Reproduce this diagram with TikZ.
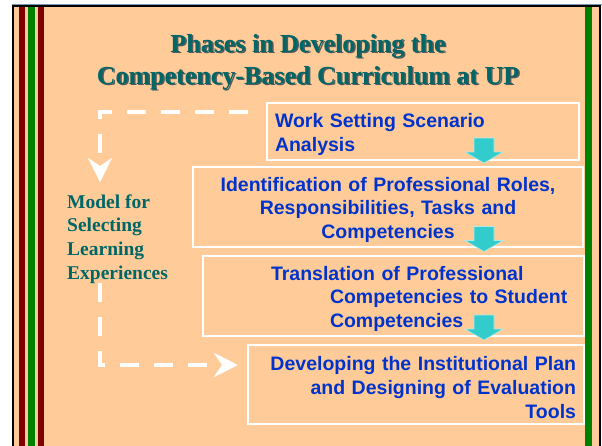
\documentclass[tikz,border=0pt]{standalone}
\usepackage{fontspec}
\setmainfont{Liberation Serif}
\setsansfont{Liberation Sans}
\usetikzlibrary{arrows.meta}

\definecolor{peach}{RGB}{255,204,153}
\definecolor{titleteal}{RGB}{0,102,102}
\definecolor{phaseblue}{RGB}{0,51,204}
\definecolor{flowcyan}{RGB}{51,204,204}
\definecolor{barred}{RGB}{128,0,0}
\definecolor{bargreen}{RGB}{0,128,0}
\definecolor{edgeslate}{RGB}{120,150,165}

\begin{document}
\begin{tikzpicture}[x=1pt,y=-1pt,
    phase/.style = {draw=white, line width=2pt, inner xsep=8pt, inner ysep=0pt, text=phaseblue,
                    font=\sffamily\bfseries\fontsize{19.5}{23.6}\selectfont,
                    execute at begin node=\rule{0pt}{20pt}},
    heading/.style = {anchor=base, inner sep=0pt, font=\bfseries\fontsize{26}{30}\selectfont},
    model/.style = {anchor=west, align=left, inner sep=0pt, text=titleteal,
                    font=\bfseries\fontsize{19.5}{23.7}\selectfont},
    loop/.style = {draw=white, line width=4pt, dash pattern=on 19pt off 15pt,
                   -{Stealth[length=24pt,width=24pt,inset=8pt]}},
    down/.pic = {\filldraw[fill=flowcyan, draw=white!60!flowcyan, line width=0.6pt]
                 (-10,-12) -- (10,-12) -- (10,2) -- (19,2) -- (0,13) -- (-19,2) -- (-10,2) -- cycle;}]
  \useasboundingbox (0,0) rectangle (602,445);

  % slide background and frame
  \fill[white] (0,0) rectangle (602,445);
  \fill[peach] (13,6) rectangle (600,450);
  \fill[barred] (19,6) rectangle (25,450);
  \fill[bargreen] (28,6) rectangle (35,450);
  \fill[barred] (38,6) rectangle (44,450);
  \fill[bargreen] (585,6) rectangle (592,450);
  \draw[edgeslate, line width=1pt] (12,4.5) -- (602,4.5);
  \draw[line width=2pt] (13,450) -- (13,6) -- (600,6) -- (600,450);

  % title with its shadow
  \node[heading, text=black!65] (title1s) at (309.5,53.5) {Phases in Developing the};
  \node[heading, text=black!65] (title2s) at (309.5,85.5) {Competency-Based Curriculum at UP};
  \node[heading, text=titleteal] (title1) at (308,52) {Phases in Developing the};
  \node[heading, text=titleteal] (title2) at (308,84) {Competency-Based Curriculum at UP};

  % the four phases
  \node[phase, minimum width=312pt, minimum height=57pt, text width=296pt, align=left]
    (scenario) at (423,131.5) {Work Setting Scenario\\Analysis};
  \node[phase, minimum width=390pt, minimum height=80pt, text width=374pt, align=center]
    (roles) at (388,207) {Identification of Professional Roles,\\Responsibilities, Tasks and\\Competencies};
  \node[phase, minimum width=381pt, minimum height=80pt, text width=365pt, align=left]
    (translation) at (393.5,296) {\hspace*{60pt}Translation of Professional\\
      \hspace*{119pt}Competencies to Student\\\hspace*{119pt}Competencies};
  \node[phase, minimum width=336pt, minimum height=79pt, text width=320pt, align=right]
    (plan) at (416,384.5) {Developing the Institutional Plan\\and Designing of Evaluation\\Tools};

  \pic at (484,150) {down};
  \pic at (484,238.5) {down};
  \pic at (484,327) {down};

  % feedback loop on the left
  \node[model] (model) at (67,239) {Model for\\Selecting\\Learning\\Experiences};

  \coordinate (loopin) at (248,112);
  \coordinate (loopturn) at (100,112);
  \coordinate (loopdown) at (100,182);
  \coordinate (loopout) at (100,283);
  \coordinate (loopfoot) at (100,365);
  \coordinate (looptip) at (238,365);
  \draw[loop] (loopin) -- (loopturn) -- (loopdown);
  \draw[loop] (loopout) -- (loopfoot) -- (looptip);
\end{tikzpicture}
\end{document}
